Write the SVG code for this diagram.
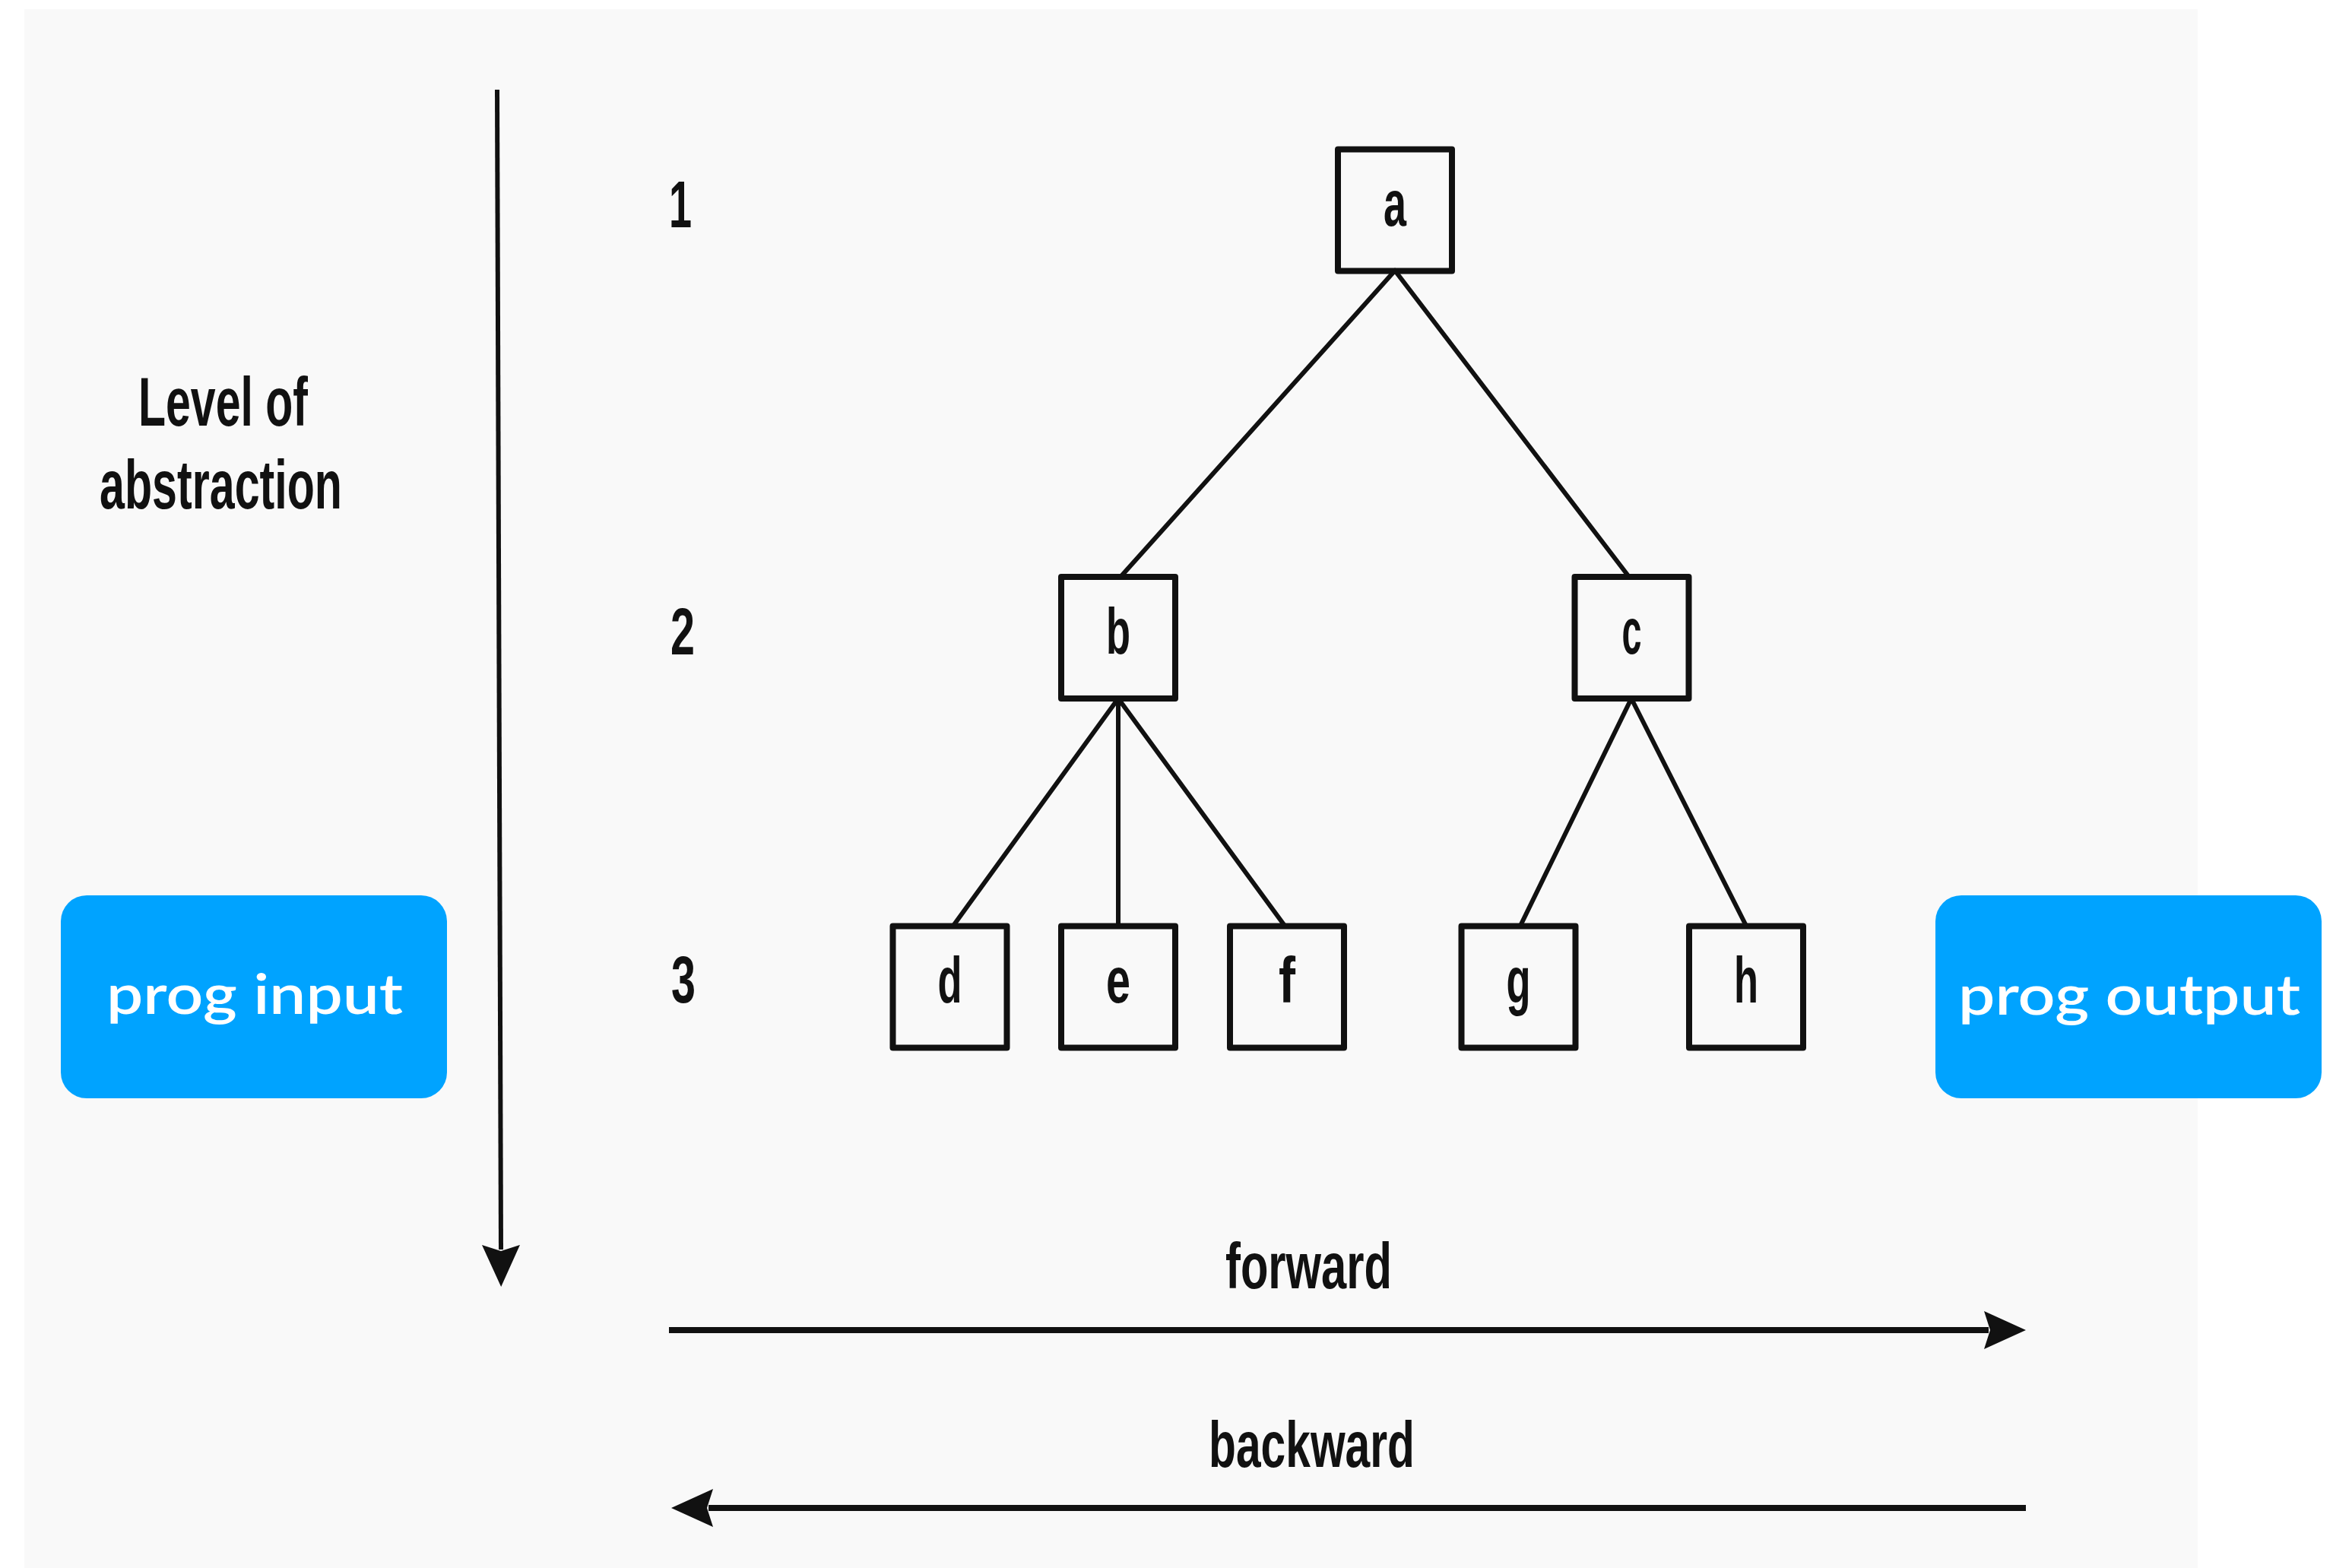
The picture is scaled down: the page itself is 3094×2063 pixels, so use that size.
<svg xmlns="http://www.w3.org/2000/svg" width="3094" height="2063" viewBox="0 0 3094 2063">
  <defs>
    <style>
      .box { fill: none; stroke: #111; stroke-width: 8; stroke-linejoin: round; }
      .edge { stroke: #111; stroke-width: 6; fill: none; stroke-linecap: round; }
      .axis { stroke: #111; fill: none; }
      .lbl { font-family: "Liberation Sans Narrow", "Liberation Sans", Arial, sans-serif; fill: #111; }
      .node { font-size: 86px; text-anchor: middle; font-weight: bold; }
      .num { font-size: 88px; text-anchor: middle; font-weight: bold; }
      .cap { font-size: 90px; font-weight: bold; }
      .dir { font-size: 86px; font-weight: bold; }
      .pill { fill: #00A3FF; }
      .pilltxt { font-family: Lato, "Open Sans", sans-serif; font-size: 74px; font-weight: 600; fill: #ffffff; }
    </style>
    <marker id="head" markerUnits="userSpaceOnUse" viewBox="0 0 56 50" markerWidth="56" markerHeight="50" refX="6" refY="25" orient="auto">
      <path d="M0,0 L55,25 L0,50 L8,25 Z" fill="#111"/>
    </marker>
  </defs>

  <rect x="0" y="0" width="3094" height="2063" fill="#ffffff"/>
  <rect x="32" y="12" width="2859" height="2051" fill="#F9F9F9"/>

  <g id="connectors">
    <line class="edge" x1="1835" y1="356" x2="1474" y2="759"/>
    <line class="edge" x1="1835" y1="356" x2="2143" y2="759"/>
    <line class="edge" x1="1471" y1="919" x2="1254" y2="1218"/>
    <line class="edge" x1="1471" y1="919" x2="1471" y2="1218"/>
    <line class="edge" x1="1471" y1="919" x2="1690" y2="1218"/>
    <line class="edge" x1="2146" y1="919" x2="2000" y2="1218"/>
    <line class="edge" x1="2146" y1="919" x2="2297" y2="1218"/>
    <line id="abstraction-axis" class="axis" stroke-width="6" x1="654" y1="118" x2="659" y2="1644" marker-end="url(#head)"/>
    <line id="forward-arrow" class="axis" stroke-width="8" x1="880" y1="1750" x2="2616" y2="1750" marker-end="url(#head)"/>
    <line id="backward-arrow" class="axis" stroke-width="8" x1="2665" y1="1984" x2="932" y2="1984" marker-end="url(#head)"/>
  </g>

  <g id="node-a">
    <rect class="box" x="1760" y="196.5" width="150" height="160"/>
    <text class="lbl node" x="1835" y="297" textLength="30" lengthAdjust="spacingAndGlyphs">a</text>
  </g>
  <g id="node-b">
    <rect class="box" x="1396" y="759" width="150" height="160"/>
    <text class="lbl node" x="1471" y="860" textLength="32" lengthAdjust="spacingAndGlyphs">b</text>
  </g>
  <g id="node-c">
    <rect class="box" x="2071.5" y="759" width="150" height="160"/>
    <text class="lbl node" x="2146.5" y="860" textLength="26" lengthAdjust="spacingAndGlyphs">c</text>
  </g>
  <g id="node-d">
    <rect class="box" x="1174.5" y="1218.5" width="150" height="160"/>
    <text class="lbl node" x="1249.5" y="1319" textLength="32" lengthAdjust="spacingAndGlyphs">d</text>
  </g>
  <g id="node-e">
    <rect class="box" x="1396" y="1218.5" width="150" height="160"/>
    <text class="lbl node" x="1471" y="1319" textLength="32" lengthAdjust="spacingAndGlyphs">e</text>
  </g>
  <g id="node-f">
    <rect class="box" x="1618" y="1218.5" width="150" height="160"/>
    <text class="lbl node" x="1693" y="1319" textLength="22" lengthAdjust="spacingAndGlyphs">f</text>
  </g>
  <g id="node-g">
    <rect class="box" x="1922.5" y="1218.5" width="150" height="160"/>
    <text class="lbl node" x="1997.5" y="1319" textLength="32" lengthAdjust="spacingAndGlyphs">g</text>
  </g>
  <g id="node-h">
    <rect class="box" x="2222" y="1218.5" width="150" height="160"/>
    <text class="lbl node" x="2297" y="1319" textLength="32" lengthAdjust="spacingAndGlyphs">h</text>
  </g>

  <g id="level-numbers">
    <text class="lbl num" x="895" y="299" textLength="30" lengthAdjust="spacingAndGlyphs">1</text>
    <text class="lbl num" x="898" y="861" textLength="32" lengthAdjust="spacingAndGlyphs">2</text>
    <text class="lbl num" x="899" y="1319" textLength="32" lengthAdjust="spacingAndGlyphs">3</text>
  </g>

  <g id="axis-label">
    <text class="lbl cap" x="182" y="560" textLength="223" lengthAdjust="spacingAndGlyphs">Level of</text>
    <text class="lbl cap" x="131" y="669" textLength="319" lengthAdjust="spacingAndGlyphs">abstraction</text>
  </g>

  <g id="direction-labels">
    <text class="lbl dir" x="1612" y="1695" textLength="219" lengthAdjust="spacingAndGlyphs">forward</text>
    <text class="lbl dir" x="1590" y="1930" textLength="271" lengthAdjust="spacingAndGlyphs">backward</text>
  </g>

  <g id="prog-input">
    <rect class="pill" x="80" y="1178" width="508" height="267" rx="34" ry="34"/>
    <text class="pilltxt" x="140" y="1334" textLength="390" lengthAdjust="spacingAndGlyphs">prog input</text>
  </g>
  <g id="prog-output">
    <rect class="pill" x="2546" y="1178" width="508" height="267" rx="34" ry="34"/>
    <text class="pilltxt" x="2576" y="1335" textLength="450" lengthAdjust="spacingAndGlyphs">prog output</text>
  </g>
</svg>
